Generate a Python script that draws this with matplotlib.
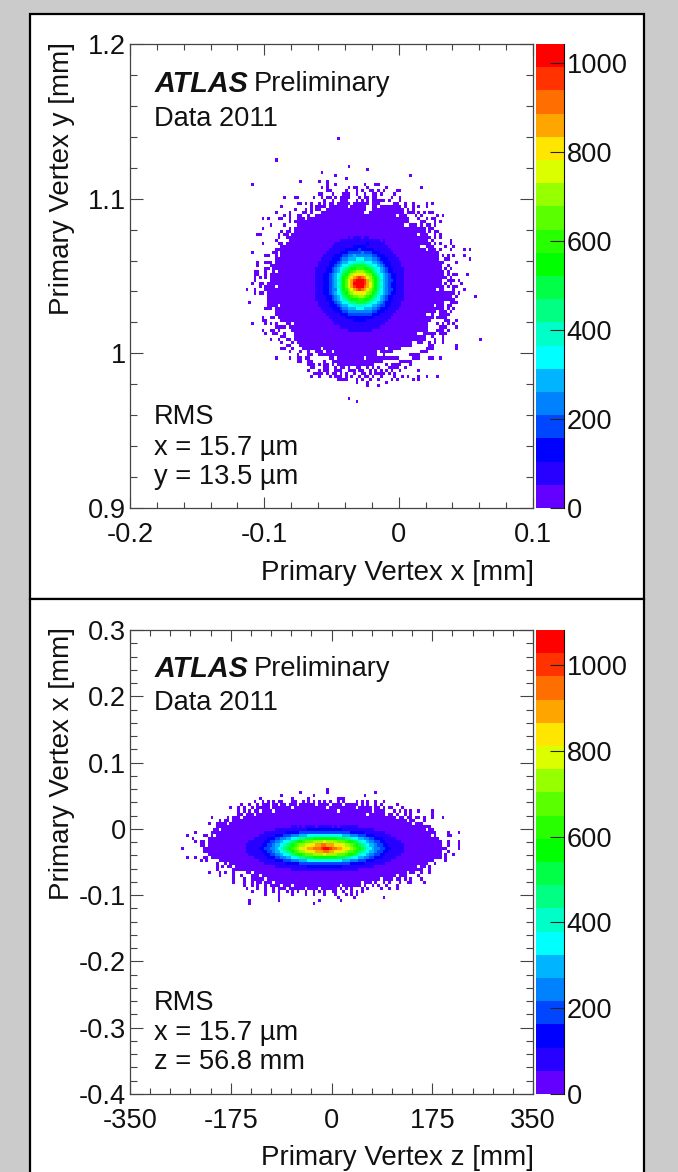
import matplotlib
matplotlib.use('Agg')
import matplotlib.pyplot as plt
import numpy as np
from matplotlib.colors import ListedColormap, BoundaryNorm
from matplotlib.patches import Rectangle

plt.rcParams['font.family'] = ['Liberation Sans', 'DejaVu Sans']

W, H = 678, 1172
N_BINS = 150

# colour bands, bottom to top
band_colors = ['#6400ff', '#2800ff', '#0000ff', '#0046ff', '#0082ff', '#00b4ff', '#00ffff',
               '#00ffc8', '#00ff82', '#00ff46', '#00ff00', '#28ff00', '#5aff00', '#96ff00',
               '#dcff00', '#ffe600', '#ffa500', '#ff6e00', '#ff3200', '#ff0000']

# upper panel: y against x
xy_max = 1043
xy_z_ticks = [0, 200, 400, 600, 800, 1000]
xy_first_row = 52
xy_left = [74, 73, 71, 69, 66, 62, 62, 61, 61, 60, 59, 59, 58, 58, 57, 56, 54, 54, 54, 53, 53, 53, 52, 52, 52, 52,
           51, 51, 51, 51, 51, 52, 53, 54, 54, 54, 55, 56, 58, 59, 60, 61, 61, 61, 62, 63, 64, 69, 70, 74, 75, 78]
xy_right = [99, 101, 101, 102, 103, 103, 106, 108, 109, 110, 111, 110, 111, 112, 112, 113, 114, 114, 115, 115, 115,
            116, 116, 116, 115, 115, 116, 116, 117, 117, 117, 116, 116, 114, 113, 112, 112, 111, 110, 110, 110, 110,
            109, 109, 108, 104, 100, 97, 94, 99, 93, 90]
# single filled bins outside the solid area: row -> columns
xy_fringe = {
    30: [77], 37: [54], 39: [81], 40: [88], 41: [71], 42: [76, 104], 43: [80], 44: [63, 70, 73],
    45: [45, 73, 76, 87, 91, 92], 46: [71, 73, 81, 83, 84, 88, 95, 108],
    47: [73, 74, 80, 84, 86, 89, 90, 92, 94, 99, 100],
    48: [70, 71, 75, 79, 80, 81, 84, 87, 90, 91, 93, 98],
    49: [57, 61, 62, 68, 71, 73, 74, 76, 78, 79, 80, 81, 85, 87, 88, 90, 91, 97, 100],
    50: [72, 75, 78, 79, 80, 84, 86, 88, 90, 91, 92, 93, 94, 96, 100],
    51: [62, 63, 65, 67, 70, 72, 74, 75, 77, 78, 79, 80, 81, 83, 84, 85, 86, 87, 88, 90, 91, 92, 98, 99, 102, 105,
         110, 112],
    52: [56, 67, 69, 70, 71, 72, 100, 102, 105, 107, 110], 53: [61, 65, 67, 69, 70, 103, 105],
    54: [54, 59, 64, 65, 67, 103, 104, 105, 107, 109, 111, 112],
    55: [57, 59, 62, 63, 66, 106, 108, 114, 116], 56: [49, 51, 55, 56, 59, 62, 63, 64, 107, 110, 112, 113],
    57: [59, 61, 64, 108, 109, 113, 115], 58: [52, 57, 108, 110, 111, 113], 59: [49, 59, 109, 111, 112],
    60: [56, 58, 59, 111, 113, 114], 61: [47, 48, 55, 57, 58, 113, 115], 62: [55, 58, 113, 115], 63: [54, 59, 112, 119],
    64: [49, 55, 56, 113, 115, 119], 65: [56, 57, 110, 117, 120], 66: [54, 55, 56, 113, 115, 119, 124, 126],
    67: [45, 53, 54, 114], 68: [50, 51, 116, 118, 120, 124], 69: [54, 117, 118, 126], 70: [47, 50, 51, 52, 116, 121],
    71: [47, 52, 118], 72: [50, 51, 117, 119], 73: [46, 47, 50, 118], 74: [46, 47, 50, 118, 120, 121, 125],
    75: [46, 48, 50, 117, 119], 76: [46, 118, 119, 120, 122], 77: [45, 48, 49, 51, 117, 119, 123],
    78: [48, 50, 118, 120, 121], 79: [43, 46, 50, 120, 124], 80: [46, 48, 49, 118, 119, 120, 122],
    81: [118, 119, 121, 128], 82: [118, 119, 120], 83: [44, 51, 119, 120, 121], 84: [51, 52, 53, 118, 119],
    85: [50, 51, 52, 115, 116, 118, 120], 86: [115, 116, 117, 119], 87: [115, 116, 117, 118],
    88: [49, 52, 53, 114, 115, 116, 117], 89: [49, 50, 117, 118, 121],
    90: [45, 50, 52, 54, 114, 116, 118, 120], 91: [54, 55, 56, 57, 115, 116, 117, 121],
    92: [49, 52, 53, 55, 114, 115, 116, 118], 93: [50, 53, 54, 57, 111, 112, 113, 115, 116, 117],
    94: [56, 57, 112, 116], 95: [52, 55, 58, 59, 113, 116, 130], 96: [56, 60, 111, 113, 116],
    97: [58, 59, 111, 112, 121], 98: [56, 57, 60, 110, 111, 112, 121], 99: [59, 63, 66, 108, 109, 110],
    100: [62, 66, 67, 104, 105, 106, 107], 101: [54, 59, 62, 63, 65, 66, 105, 106, 107, 111, 112, 115],
    102: [62, 63, 66, 67, 72, 100, 101, 102, 103, 104], 103: [66, 67, 68, 70, 72, 73, 75, 77, 95, 97, 98, 99, 100, 104],
    104: [67, 68, 72, 73, 76, 78, 79, 81, 84, 85, 88, 90, 92, 96, 97, 98, 99, 102],
    105: [66, 70, 72, 73, 76, 77, 78, 81, 82, 83, 85, 86, 89, 91, 93, 95, 97, 100, 107],
    106: [68, 69, 70, 71, 73, 75, 76, 78, 80, 83, 86, 87, 89, 91, 92, 93, 94, 96, 98],
    107: [67, 70, 74, 76, 77, 78, 80, 82, 85, 87, 88, 90, 93, 98, 101, 103, 107, 110, 114],
    108: [77, 78, 79, 80, 84, 86, 89, 92, 97, 99, 105, 107], 109: [84, 88, 95], 110: [88, 92], 114: [81], 115: [84],
}
# empty bins inside the solid area
xy_holes = {
    52: [81, 88, 89, 92], 53: [88, 89], 54: [87, 88], 55: [99], 58: [102, 103], 61: [107], 65: [108, 109], 66: [110],
    68: [55], 73: [54], 78: [54], 79: [114], 84: [55, 113], 87: [110, 111], 90: [60], 93: [107, 108], 96: [105, 106],
    98: [71, 95], 99: [72, 75, 92], 100: [92, 93], 101: [76, 87],
}
# colour band per bin in the centre (0-9, a-j), first char is column xy_core_col
xy_core_row = 62
xy_core_col = 68
xy_core = [
    '00000000000001011' + '101100000000000000',
    '00000000001111111' + '111111110100000000',
    '00000000111111111' + '111211111100000000',
    '00000001111111122' + '222111111110000000',
    '00000011111122222' + '322222111111000000',
    '00000111112223333' + '343332221111100000',
    '00001111222334454' + '444443322211110000',
    '00011112223445556' + '665554432221111000',
    '00111122234556677' + '787665543222111100',
    '00111122345667899' + '999876654322111100',
    '01111223456789aab' + 'bbaa98765432211110',
    '0111122345689abcd' + 'ddcba9765432211110',
    '011122345679acdff' + 'ffedca976543221110',
    '01112234568abdfgh' + 'ihgedba86543221110',
    '01112234578acegij' + 'jjigdca87543321110',
    '01112234568acegjj' + 'jjigeca86543221110',
    '01112234578acegij' + 'jjhgeca87543221110',
    '01112234468abdegh' + 'ihgfdba86543321110',
    '011122345679acdef' + 'efedca976543221110',
    '0111122345689abcc' + 'ddcba9865432211110',
    '01111223456789aaa' + 'bbaa98765432211110',
    '00111122345667889' + '999876654322111100',
    '00111122234556677' + '777665543322111100',
    '00011112223445556' + '665554432221111000',
    '00001111222334444' + '444443322211110000',
    '00000111112223333' + '333332221111100000',
    '00000011111122222' + '222222111111000000',
    '00000001111111122' + '222111111110000000',
    '00000000111111111' + '111111111100000000',
    '00000000001111111' + '111111110000000000',
    '00000000000001111' + '111110000000000000',
]

# lower panel: x against z
xz_max = 1082
xz_z_ticks = [0, 200, 400, 600, 800, 1000]
xz_first_row = 56
xz_left = [50, 48, 46, 43, 38, 35, 34, 32, 31, 30, 30, 29, 29, 29, 29, 29, 29, 30, 33, 35, 36, 38, 43, 45, 46, 50, 53, 56]
xz_right = [84, 87, 94, 97, 104, 105, 108, 110, 112, 113, 113, 114, 115, 115, 116, 115, 115, 115, 112, 110, 109, 108,
            105, 102, 97, 89, 84, 76]
xz_fringe = {
    51: [73], 52: [63, 73, 91], 53: [56, 68, 87], 54: [48, 60, 66, 77, 78, 79],
    55: [46, 49, 51, 53, 55, 56, 60, 61, 64, 66, 68, 70, 72, 74, 77, 79, 84, 86, 88, 91, 94],
    56: [41, 44, 47, 49, 86, 88, 91, 93, 99], 57: [37, 40, 42, 45, 47, 88, 89, 91, 92, 94, 96, 97, 101],
    58: [40, 42, 44, 98, 100, 102, 104, 107, 112], 59: [40, 41, 99, 102, 104, 112],
    60: [30, 36, 40, 43, 106, 107, 109, 112, 116],
    61: [33, 36, 38, 109], 62: [29, 32, 33, 36], 63: [33, 36, 40, 111], 64: [112], 65: [24, 113, 118, 122],
    66: [21, 27, 28, 118, 119], 67: [23], 68: [24, 26, 27, 118, 122], 69: [26, 27, 118, 122],
    70: [19, 27, 28, 117, 122], 71: [27, 28, 118], 72: [117, 120], 73: [21, 24, 27, 28, 117], 74: [26, 28, 117],
    75: [32, 113], 76: [32, 34, 111], 77: [32, 111], 78: [29, 33, 35, 38, 108, 111], 79: [33, 38, 41, 107],
    80: [38, 42, 45, 99, 100, 102, 104, 108], 81: [38, 42, 45, 47, 48, 91, 94, 96, 100, 103, 104, 109],
    82: [42, 45, 47, 50, 52, 85, 87, 90, 92, 95, 99],
    83: [43, 47, 50, 53, 55, 57, 60, 62, 64, 66, 73, 76, 78, 80, 82, 86, 88, 93, 96, 99],
    84: [45, 50, 53, 55, 58, 60, 62, 65, 68, 70, 72, 75, 76, 79, 82, 84, 86], 85: [50, 55, 60, 65, 68, 72, 76, 80, 82, 84],
    86: [55, 77, 83, 94], 87: [44, 55, 70, 78], 88: [44, 68],
}
xz_holes = {
    56: [52, 55, 58, 62, 69, 74, 79], 57: [52, 60, 73, 84], 58: [48, 53, 77, 90], 59: [46, 88, 95], 60: [41, 99, 102],
    61: [37, 103], 62: [36, 105], 64: [33, 110], 66: [31, 112], 75: [36], 76: [38, 107], 78: [45, 103], 79: [48, 99],
    80: [50, 93], 81: [53, 86], 82: [56, 60, 78], 83: [58, 65, 70],
}
xz_core_row = 63
xz_core_col = 43
xz_core = [
    '00000000000000000110101111011' + '1110101111111' + '00000000000000000',
    '00000000000111111111111222222' + '2222222111111111111' + '00000000000',
    '00000001111111122222333333333' + '33333333332222211111111' + '0000000',
    '00000111111222333444555666666' + '6666666555444333222111111' + '00000',
    '0001111122233445566788999aaaa' + 'aaaaa9998876655443322211111000',
    '0111111223344566789aabcccdddd' + 'eddddcccbaa9876654433221111110',
    '111111223345567' + '89abcddeeffggh' + 'hgggfffeddcba98765543322111111',
    '1111122334456789abcdeffgghhhi' + 'jjihhggffedcba9876544332211111',
    '111111223345567' + '89abcddefffggg' + 'hhggfffedccba98765543322111111',
    '0111111223344566789aabcccdddd' + 'eddddcccbaa9876654433221111110',
    '0001111122233445566788999aaaa' + 'aaaaa9998876655443322211111000',
    '00000111111222333444555666666' + '6666666555444333222111111' + '00000',
    '00000001111111122222333333333' + '33333333332222211111111' + '0000000',
    '00000000000111111111111222222' + '2222222111111111111' + '00000000000',
    '00000000000000000111111111111' + '1111111111111' + '00000000000000000',
]

# tick labels
xy_xticks = [-0.2, -0.1, 0, 0.1]
xy_xlabels = ['-0.2', '-0.1', '0', '0.1']
xy_yticks = [0.9, 1.0, 1.1, 1.2]
xy_ylabels = ['0.9', '1', '1.1', '1.2']
xz_xticks = [-350, -175, 0, 175, 350]
xz_xlabels = ['-350', '-175', '0', '175', '350']
xz_yticks = [-0.4, -0.3, -0.2, -0.1, 0, 0.1, 0.2, 0.3]
xz_ylabels = ['-0.4', '-0.3', '-0.2', '-0.1', '0', '0.1', '0.2', '0.3']

BAND_CHARS = '0123456789abcdefghij'
TICK_FS = 19.6
LABEL_FS = 20
TEXT_FS = 19.6


def px_axes(fig, left, top, right, bottom):
    return fig.add_axes([left / W, 1 - bottom / H, (right - left) / W, (bottom - top) / H])


def put(fig, x, y, s, **kw):
    kw.setdefault('va', 'center')
    kw.setdefault('fontsize', TEXT_FS)
    kw.setdefault('color', '#111111')
    return fig.text(x / W, 1 - y / H, s, **kw)


def build_hist(first_row, left, right, fringe, holes, core_row, core_col, core, zmax):
    band = zmax / len(band_colors)
    hist = np.full((N_BINS, N_BINS), np.nan)
    for i, (a, b) in enumerate(zip(left, right)):
        hist[first_row + i, a:b + 1] = 0.5 * band
    for row, cols in fringe.items():
        hist[row, cols] = 0.5 * band
    for row, cols in holes.items():
        hist[row, cols] = np.nan
    for i, line in enumerate(core):
        for j, ch in enumerate(line):
            hist[core_row + i, core_col + j] = (BAND_CHARS.index(ch) + 0.5) * band
    return hist


def draw_panel(fig, top, bottom, hist, xlim, ylim, zmax, zticks, xticks, xlabels, yticks, ylabels, xminor, yminor):
    cmap = ListedColormap(band_colors)
    levels = np.linspace(0, zmax, len(band_colors) + 1)
    norm = BoundaryNorm(levels, cmap.N)

    ax = px_axes(fig, 130, top, 533, bottom)
    ax.patch.set_alpha(0)
    xedges = np.linspace(xlim[0], xlim[1], N_BINS + 1)
    yedges = np.linspace(ylim[1], ylim[0], N_BINS + 1)
    ax.pcolormesh(xedges, yedges, np.ma.masked_invalid(hist), cmap=cmap, norm=norm, linewidth=0, antialiased=False)
    ax.set_xlim(xlim)
    ax.set_ylim(ylim)
    ax.set_xticks(xticks, xlabels)
    ax.set_yticks(yticks, ylabels)
    ax.set_xticks(xminor, minor=True)
    ax.set_yticks(yminor, minor=True)
    ax.tick_params(axis='x', which='major', direction='in', top=True, length=8, width=0.8, color='#444444',
                   labelsize=TICK_FS, pad=10, labelcolor='#111111')
    ax.tick_params(axis='x', which='minor', direction='in', top=True, length=4, width=0.8, color='#444444')
    ax.tick_params(axis='y', which='major', direction='in', right=True, length=9.5, width=0.8, color='#444444',
                   labelsize=TICK_FS, pad=3, labelcolor='#111111')
    ax.tick_params(axis='y', which='minor', direction='in', right=True, length=5, width=0.8, color='#444444')
    for s in ax.spines.values():
        s.set_color('#444444')
        s.set_linewidth(0.9)

    cax = px_axes(fig, 536, top, 564, bottom)
    cax.pcolormesh([0, 1], levels, np.arange(len(band_colors)).reshape(-1, 1), cmap=cmap,
                   norm=BoundaryNorm(np.arange(len(band_colors) + 1) - 0.5, cmap.N))
    cax.set_ylim(0, zmax)
    cax.set_xticks([])
    cax.yaxis.tick_right()
    cax.set_yticks(zticks, [str(v) for v in zticks])
    cax.tick_params(axis='y', direction='in', length=10, width=0.8, labelsize=TICK_FS, pad=2, color='#222222',
                    labelcolor='#111111')
    for name, s in cax.spines.items():
        s.set_visible(name == 'right')
        s.set_color('#111111')
        s.set_linewidth(0.8)
    return ax


fig = plt.figure(figsize=(W / 100, H / 100), dpi=100, facecolor='#cbcbcb')

# white boards behind the two plots
for y0, y1 in [(14, 599), (599, 1180)]:
    fig.add_artist(Rectangle((30 / W, 1 - y1 / H), 614 / W, (y1 - y0) / H, transform=fig.transFigure,
                             facecolor='white', edgecolor='black', linewidth=1.6, zorder=-1))

xy_hist = build_hist(xy_first_row, xy_left, xy_right, xy_fringe, xy_holes, xy_core_row, xy_core_col, xy_core, xy_max)
xz_hist = build_hist(xz_first_row, xz_left, xz_right, xz_fringe, xz_holes, xz_core_row, xz_core_col, xz_core, xz_max)

draw_panel(fig, 44, 508, xy_hist, (-0.2, 0.1), (0.9, 1.2), xy_max, xy_z_ticks, xy_xticks, xy_xlabels, xy_yticks,
           xy_ylabels, np.arange(-0.2, 0.1001, 0.02), np.arange(0.9, 1.2001, 0.02))
draw_panel(fig, 630, 1094, xz_hist, (-350, 350), (-0.4, 0.3), xz_max, xz_z_ticks, xz_xticks, xz_xlabels, xz_yticks,
           xz_ylabels, np.arange(-350, 351, 35), np.arange(-0.4, 0.3001, 0.02))

# axis titles
put(fig, 534, 573, 'Primary Vertex x [mm]', ha='right', fontsize=LABEL_FS)
put(fig, 62, 42, 'Primary Vertex y [mm]', ha='center', va='top', rotation=90, fontsize=LABEL_FS)
put(fig, 534, 1158, 'Primary Vertex z [mm]', ha='right', fontsize=LABEL_FS)
put(fig, 62, 627, 'Primary Vertex x [mm]', ha='center', va='top', rotation=90, fontsize=LABEL_FS)

# labels inside the plots
for y_atlas, y_data, y_rms, y_a, y_b, line_a, line_b in [
    (84, 119, 417, 448, 477, 'x = 15.7 µm', 'y = 13.5 µm'),
    (669, 703, 1003, 1033, 1062, 'x = 15.7 µm', 'z = 56.8 mm'),
]:
    put(fig, 155, y_atlas, 'ATLAS', fontweight='bold', fontstyle='italic', fontsize=20.7)
    put(fig, 254, y_atlas, 'Preliminary')
    put(fig, 154, y_data, 'Data 2011')
    put(fig, 154, y_rms, 'RMS')
    put(fig, 154, y_a, line_a)
    put(fig, 154, y_b, line_b)

fig.savefig('out.png', dpi=100, facecolor=fig.get_facecolor())
